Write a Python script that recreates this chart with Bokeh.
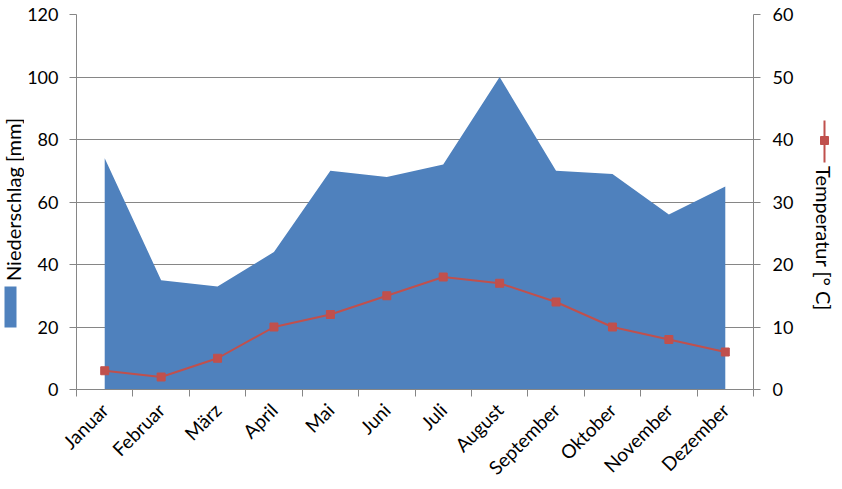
import math
from bokeh.plotting import figure
from bokeh.layouts import row
from bokeh.models import Range1d, LinearAxis, FixedTicker
from bokeh.core.properties import value
from bokeh.embed import file_html
from bokeh.resources import INLINE

months = ["Januar", "Februar", "März", "April", "Mai", "Juni", "Juli",
          "August", "September", "Oktober", "November", "Dezember"]
niederschlag = [74, 35, 33, 44, 70, 68, 72, 100, 70, 69, 56, 65]
temperatur = [3, 2, 5, 10, 12, 15, 18, 17, 14, 10, 8, 6]
left_ticks = [0, 20, 40, 60, 80, 100, 120]
right_ticks = [0, 10, 20, 30, 40, 50, 60]
left_title = "Niederschlag [mm]"
right_title = "Temperatur [° C]"

FONT = "Lato"
FS = "18px"
XFS = "19px"
TFS = "20px"
GRID = "#868686"
BLUE = "#4F81BD"
RED = "#C0504D"

H = 489
LW, MW, RW = 24, 784, 34          # widths of left panel, main plot, right panel
FL, FR, FT, FB = 75, 753, 14, 389  # frame edges in page pixels

xs = [i + 0.5 for i in range(len(months))]
bounds = list(range(len(months) + 1))

p = figure(width=MW, height=H, output_backend="svg", toolbar_location=None,
           x_range=Range1d(0, len(months)), y_range=Range1d(0, 120),
           min_border_left=FL - LW, min_border_right=LW + MW - FR,
           min_border_top=FT, min_border_bottom=H - FB)
p.outline_line_color = None
p.background_fill_color = "white"
p.border_fill_color = "white"

p.extra_y_ranges = {"temp": Range1d(0, 60)}

p.varea(x=xs, y1=[0] * len(xs), y2=niederschlag, fill_color=BLUE, fill_alpha=1)
p.line(x=xs, y=temperatur, y_range_name="temp", line_color=RED, line_width=2)
p.scatter(x=xs, y=temperatur, y_range_name="temp", marker="square", size=8,
          fill_color=RED, line_color=RED)

# x axis
xa = p.xaxis[0]
xa.ticker = FixedTicker(ticks=xs, minor_ticks=bounds)
xa.major_label_overrides = {x: m for x, m in zip(xs, months)}
xa.major_label_orientation = math.pi / 4
xa.major_tick_out = 0
xa.major_tick_in = 0
xa.minor_tick_out = 7
xa.minor_tick_in = 0
xa.minor_tick_line_color = GRID
xa.axis_line_color = GRID
xa.major_label_text_font = FONT
xa.major_label_text_font_size = XFS
xa.major_label_text_color = "black"
xa.major_label_standoff = 10

# left y axis
ya = p.yaxis[0]
ya.ticker = FixedTicker(ticks=left_ticks)
ya.major_tick_out = 7
ya.major_tick_in = 0
ya.minor_tick_out = 0
ya.minor_tick_in = 0
ya.major_tick_line_color = GRID
ya.axis_line_color = GRID
ya.major_label_text_font = FONT
ya.major_label_text_font_size = FS
ya.major_label_text_color = "black"
ya.major_label_standoff = 11

# right y axis
ra = LinearAxis(y_range_name="temp", ticker=FixedTicker(ticks=right_ticks))
ra.major_tick_out = 7
ra.major_tick_in = 0
ra.minor_tick_out = 0
ra.minor_tick_in = 0
ra.major_tick_line_color = GRID
ra.axis_line_color = GRID
ra.major_label_text_font = FONT
ra.major_label_text_font_size = FS
ra.major_label_text_color = "black"
ra.major_label_standoff = 12
p.add_layout(ra, "right")

p.xgrid.visible = False
p.ygrid.grid_line_color = GRID
p.ygrid.grid_line_width = 1
p.ygrid.ticker = FixedTicker(ticks=left_ticks)


def side_panel(width):
    # frame aligned with the main frame; data y = H - page y
    s = figure(width=width, height=H, output_backend="svg", toolbar_location=None,
               x_range=Range1d(0, width), y_range=Range1d(H - FB, H - FT),
               x_axis_location=None, y_axis_location=None,
               min_border_left=0, min_border_right=0,
               min_border_top=FT, min_border_bottom=H - FB)
    s.outline_line_color = None
    s.grid.visible = False
    s.background_fill_color = "white"
    s.border_fill_color = "white"
    return s


# left panel: axis title + legend swatch
lp = side_panel(LW)
lp.text(x=[12], y=[H - 199], text=[left_title], angle=math.pi / 2,
        text_align="center", text_baseline="middle",
        text_font=value(FONT), text_font_size=TFS, text_color="black")
lp.rect(x=[10], y=[H - 306.5], width=12, height=41, fill_color=BLUE, line_color=None)

# right panel: legend symbol + axis title
rp = side_panel(RW)
off = LW + MW
rp.segment(x0=[824 - off], y0=[H - 162], x1=[824 - off], y1=[H - 120],
           line_color=RED, line_width=2)
rp.scatter(x=[824 - off], y=[H - 140], marker="square", size=8,
           fill_color=RED, line_color=RED)
rp.text(x=[823 - off], y=[H - 238], text=[right_title], angle=-math.pi / 2,
        text_align="center", text_baseline="middle",
        text_font=value(FONT), text_font_size=TFS, text_color="black")

layout = row(lp, p, rp, spacing=0)
open("out.html", "w").write(file_html(layout, INLINE))
